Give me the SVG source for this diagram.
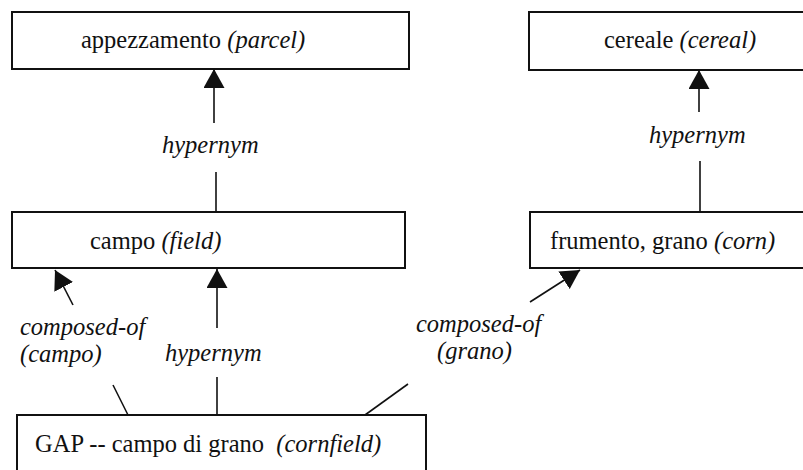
<svg xmlns="http://www.w3.org/2000/svg" width="803" height="470" viewBox="0 0 803 470">
  <style>
    .box { fill: #ffffff; stroke: #111111; stroke-width: 2; }
    .lbl { font-family: "Liberation Serif", "Times New Roman", serif; font-size: 24.5px; fill: #111111; }
    .it { font-style: italic; }
    .edge { stroke: #111111; stroke-width: 1.6; fill: none; }
    .arr { marker-end: url(#head); }
  </style>
  <defs>
    <marker id="head" markerUnits="userSpaceOnUse" markerWidth="20" markerHeight="21" refX="19" refY="10.5" orient="auto">
      <path d="M0,0 L19,10.5 L0,21 Z" fill="#111111"/>
    </marker>
  </defs>
  <rect width="803" height="470" fill="#ffffff"/>

  <g id="appezzamento">
    <rect class="box" x="12" y="12" width="397" height="57"/>
    <text class="lbl" x="81" y="48">appezzamento <tspan class="it">(parcel)</tspan></text>
  </g>

  <g id="cereale">
    <rect class="box" x="529" y="12" width="290" height="58"/>
    <text class="lbl" x="604" y="48">cereale <tspan class="it">(cereal)</tspan></text>
  </g>

  <g id="campo">
    <rect class="box" x="12" y="212" width="393" height="56"/>
    <text class="lbl" x="90" y="249">campo <tspan class="it">(field)</tspan></text>
  </g>

  <g id="frumento">
    <rect class="box" x="530" y="212" width="290" height="56"/>
    <text class="lbl" x="550" y="249">frumento, grano <tspan class="it">(corn)</tspan></text>
  </g>

  <g id="cornfield">
    <rect class="box" x="17" y="415" width="409" height="70"/>
    <text class="lbl" x="35" y="452" xml:space="preserve">GAP -- campo di grano  <tspan class="it">(cornfield)</tspan></text>
  </g>

  <g id="connectors">
    <!-- campo hypernym appezzamento -->
    <line class="edge arr" x1="214" y1="123" x2="214" y2="69"/>
    <line class="edge" x1="216" y1="172" x2="216" y2="212"/>
    <text class="lbl it" x="162" y="153">hypernym</text>

    <!-- frumento hypernym cereale -->
    <line class="edge arr" x1="699" y1="112" x2="699" y2="70"/>
    <line class="edge" x1="700" y1="161" x2="700" y2="212"/>
    <text class="lbl it" x="649" y="143">hypernym</text>

    <!-- cornfield hypernym campo -->
    <line class="edge arr" x1="217" y1="328" x2="217" y2="269"/>
    <line class="edge" x1="217" y1="377" x2="217" y2="415"/>
    <text class="lbl it" x="165" y="361">hypernym</text>

    <!-- cornfield composed-of campo -->
    <line class="edge arr" x1="73" y1="305" x2="55" y2="270"/>
    <line class="edge" x1="113" y1="385" x2="128" y2="415"/>
    <text class="lbl it" x="20" y="335">composed-of</text>
    <text class="lbl it" x="20" y="362">(campo)</text>

    <!-- cornfield composed-of grano -->
    <line class="edge arr" x1="530" y1="302" x2="580" y2="270"/>
    <line class="edge" x1="408" y1="384" x2="365" y2="415"/>
    <text class="lbl it" x="416" y="332">composed-of</text>
    <text class="lbl it" x="437" y="359">(grano)</text>
  </g>
</svg>
